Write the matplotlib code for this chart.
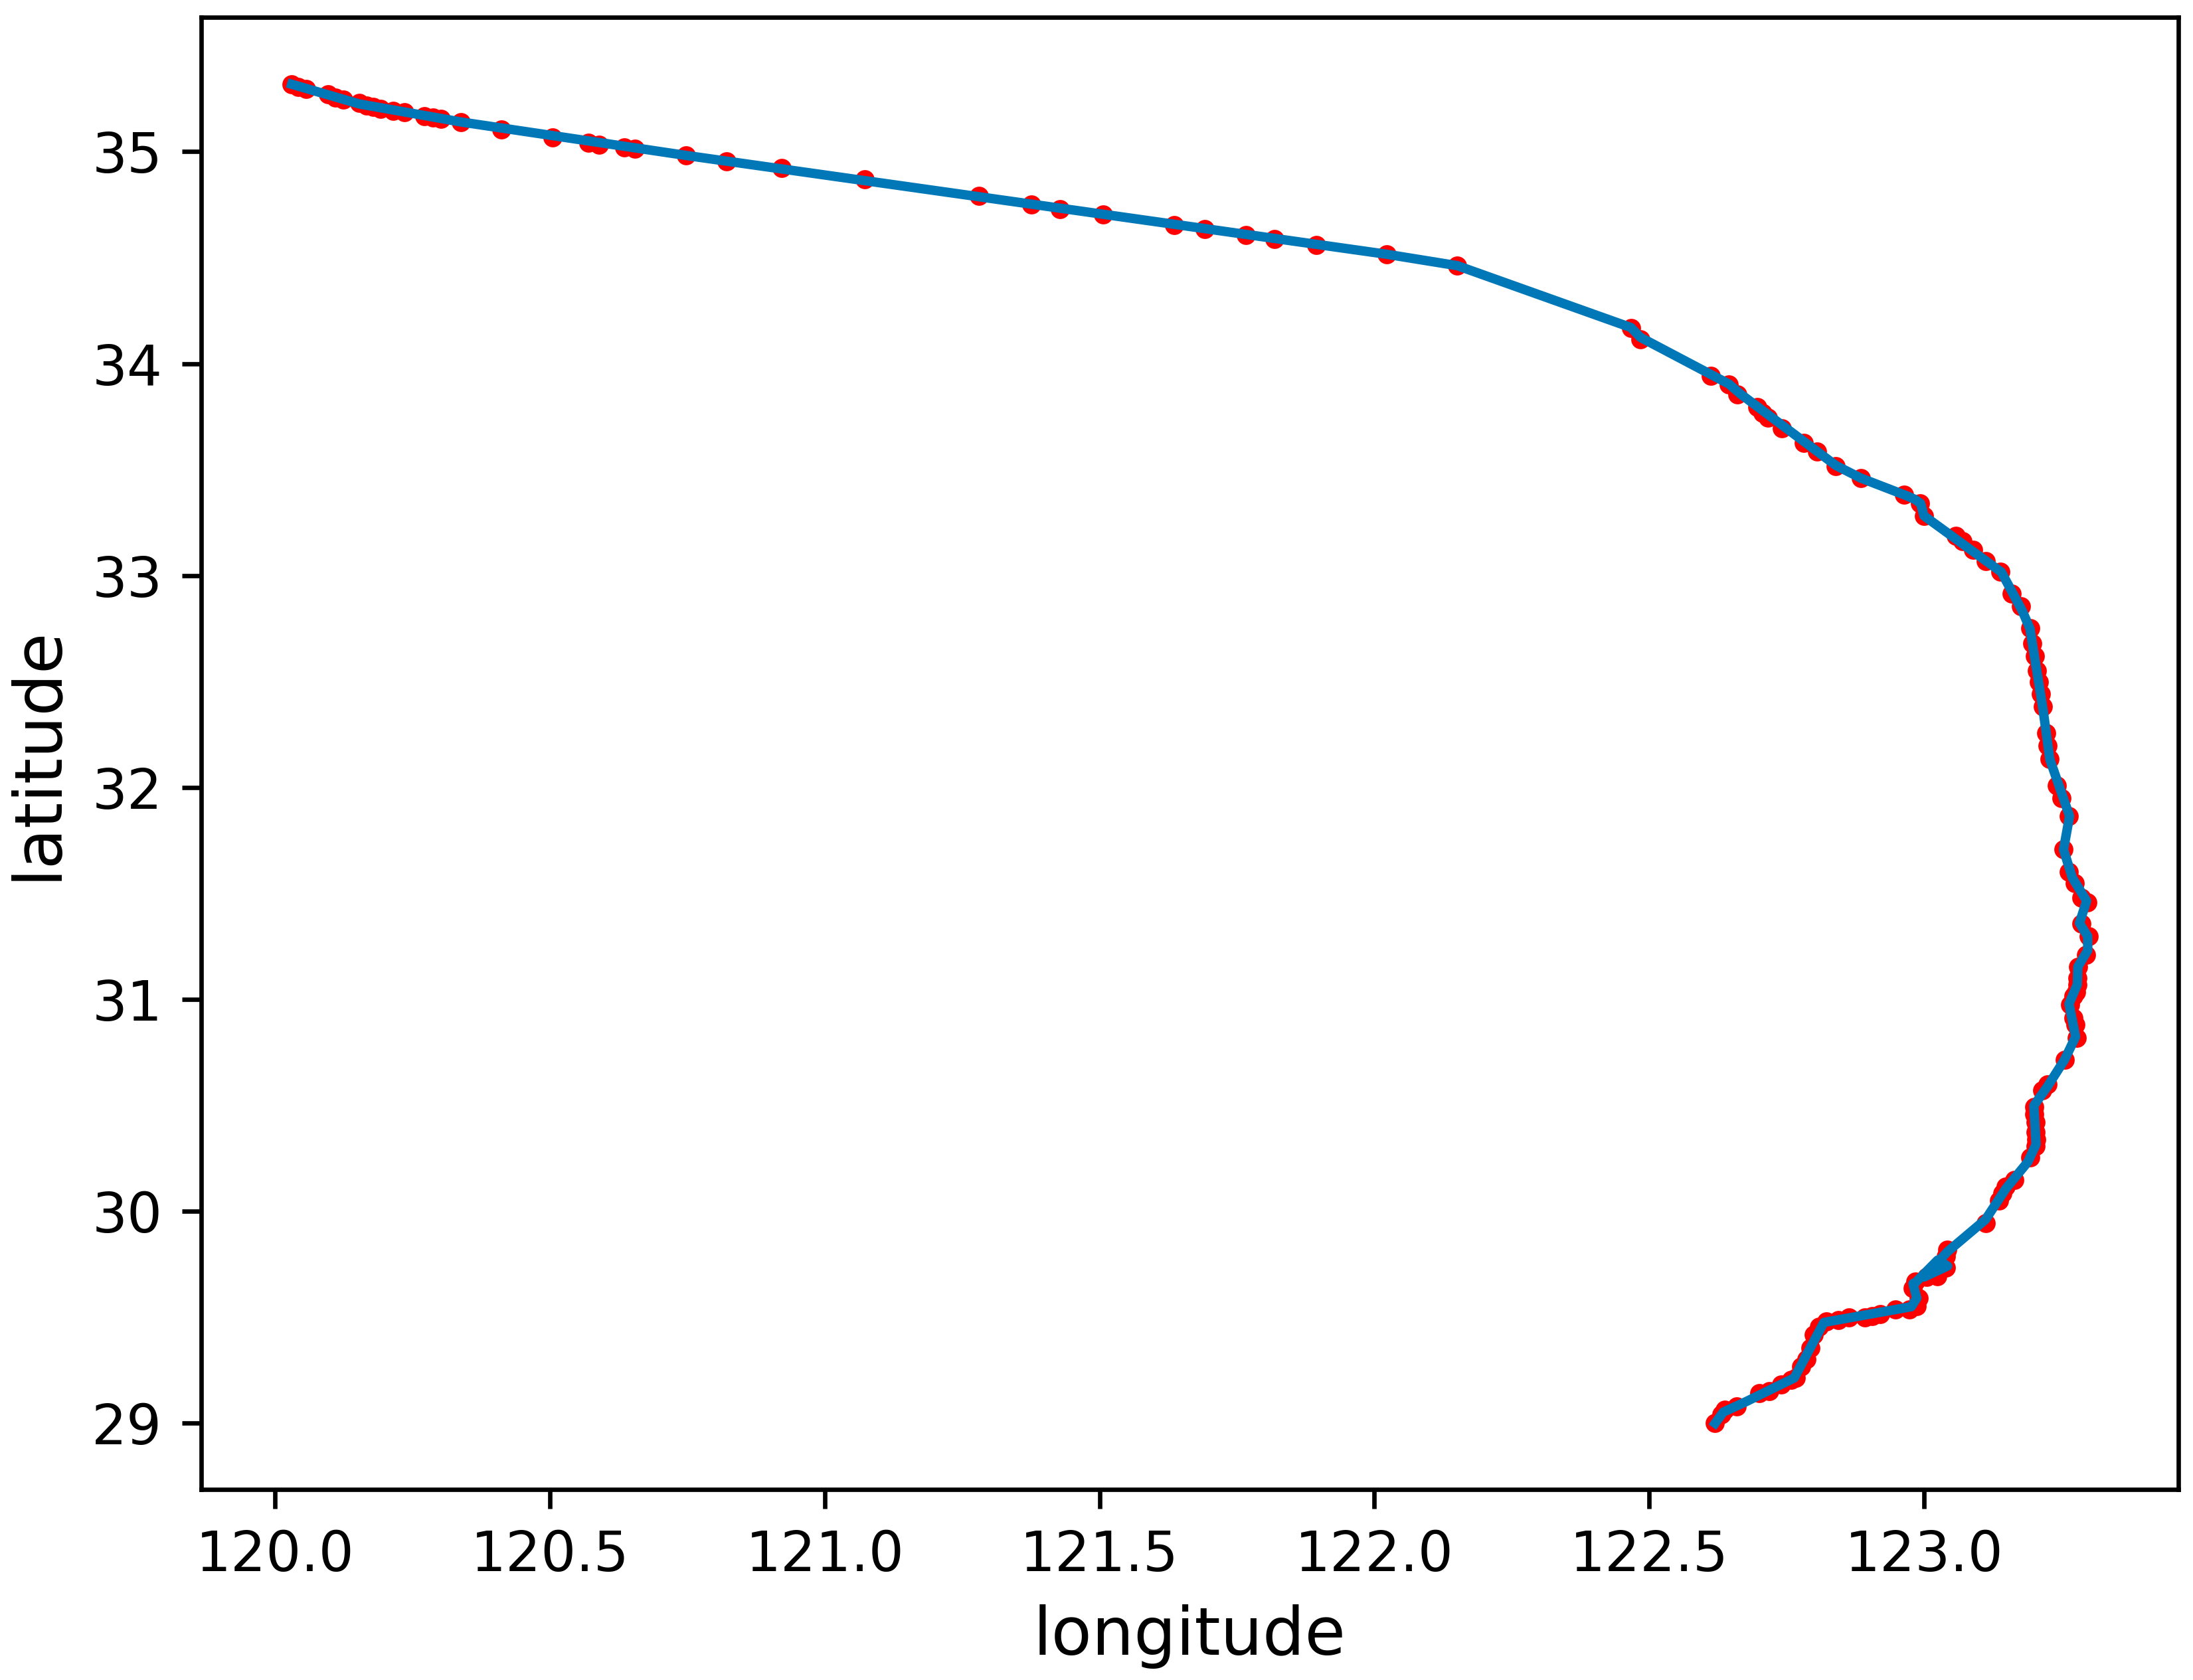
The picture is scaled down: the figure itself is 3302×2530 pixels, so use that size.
import matplotlib
matplotlib.use('Agg')
import matplotlib.pyplot as plt

# track points (red), south end last
point_lon = [120.030, 120.042, 120.056, 120.096, 120.110, 120.124, 120.153, 120.166, 120.178, 120.192,
             120.215, 120.235, 120.271, 120.287, 120.302, 120.338, 120.411, 120.505, 120.570, 120.589,
             120.635, 120.654, 120.748, 120.821, 120.922, 121.073, 121.281, 121.376, 121.428, 121.506,
             121.636, 121.691, 121.766, 121.818, 121.894, 122.022, 122.151, 122.467, 122.484, 122.612,
             122.645, 122.661, 122.697, 122.707, 122.716, 122.742, 122.781, 122.806, 122.840, 122.885,
             122.964, 122.993, 123.000, 123.058, 123.070, 123.090, 123.113, 123.139, 123.160, 123.176,
             123.193, 123.197, 123.202, 123.206, 123.209, 123.213, 123.217, 123.223, 123.225, 123.229,
             123.242, 123.250, 123.264, 123.254, 123.263, 123.274, 123.287, 123.297, 123.286, 123.300,
             123.295, 123.280, 123.279, 123.279, 123.277, 123.272, 123.266, 123.272, 123.276, 123.278,
             123.256, 123.225, 123.215, 123.201, 123.201, 123.203, 123.203, 123.204, 123.203, 123.193,
             123.165, 123.149, 123.143, 123.137, 123.112, 123.043, 123.040, 123.040, 123.024, 123.005,
             122.985, 122.980, 122.990, 122.987, 122.973, 122.948, 122.920, 122.906, 122.892, 122.863,
             122.844, 122.823, 122.809, 122.800, 122.793, 122.786, 122.777, 122.767, 122.759, 122.740,
             122.719, 122.700, 122.659, 122.638, 122.631, 122.620]
point_lat = [35.318, 35.306, 35.295, 35.271, 35.256, 35.247, 35.230, 35.217, 35.211, 35.201,
             35.191, 35.185, 35.167, 35.160, 35.155, 35.140, 35.106, 35.068, 35.043, 35.034,
             35.020, 35.013, 34.982, 34.955, 34.922, 34.869, 34.790, 34.752, 34.729, 34.703,
             34.654, 34.635, 34.606, 34.587, 34.560, 34.516, 34.462, 34.167, 34.113, 33.941,
             33.900, 33.854, 33.794, 33.768, 33.744, 33.695, 33.625, 33.585, 33.517, 33.460,
             33.381, 33.340, 33.282, 33.188, 33.162, 33.120, 33.068, 33.019, 32.914, 32.856,
             32.752, 32.680, 32.621, 32.551, 32.499, 32.441, 32.382, 32.257, 32.196, 32.133,
             32.008, 31.949, 31.866, 31.707, 31.603, 31.547, 31.481, 31.459, 31.357, 31.299,
             31.211, 31.154, 31.100, 31.070, 31.034, 31.016, 30.976, 30.914, 30.880, 30.820,
             30.716, 30.599, 30.572, 30.494, 30.458, 30.422, 30.374, 30.339, 30.308, 30.255,
             30.149, 30.118, 30.085, 30.050, 29.945, 29.820, 29.788, 29.733, 29.695, 29.691,
             29.669, 29.638, 29.591, 29.554, 29.538, 29.538, 29.514, 29.507, 29.499, 29.499,
             29.486, 29.481, 29.455, 29.418, 29.355, 29.303, 29.267, 29.214, 29.204, 29.183,
             29.152, 29.142, 29.079, 29.063, 29.042, 29.000]

# smoothed track (blue), fewer vertices than the points
track_lon = [120.030, 120.153, 120.338, 120.748, 122.022, 122.151, 122.467, 122.484, 122.645, 122.666,
             122.840, 122.885, 122.969, 122.983, 122.994, 123.000, 123.141, 123.179, 123.193, 123.217,
             123.229, 123.265, 123.254, 123.270, 123.296, 123.283, 123.298, 123.298, 123.280, 123.279,
             123.264, 123.276, 123.256, 123.225, 123.200, 123.204, 123.189, 123.149, 123.112, 123.043,
             123.000, 123.043, 123.025, 122.985, 122.980, 122.987, 122.977, 122.818, 122.793, 122.764,
             122.677, 122.635, 122.620]
track_lat = [35.318, 35.225, 35.140, 34.982, 34.516, 34.462, 34.170, 34.124, 33.904, 33.857,
             33.519, 33.460, 33.376, 33.360, 33.340, 33.282, 33.016, 32.833, 32.749, 32.363,
             32.133, 31.865, 31.707, 31.574, 31.465, 31.360, 31.298, 31.231, 31.154, 31.070,
             30.979, 30.824, 30.716, 30.590, 30.499, 30.316, 30.233, 30.107, 29.961, 29.810,
             29.690, 29.742, 29.770, 29.665, 29.659, 29.591, 29.550, 29.476, 29.355, 29.214,
             29.103, 29.053, 29.000]

fig = plt.figure(figsize=(3302 / 600, 2530 / 600), dpi=600)
ax = fig.add_axes([302.7 / 3302, 1 - 2243.3 / 2530, (3280 - 302.7) / 3302, (2243.3 - 25.7) / 2530])

ax.scatter(point_lon, point_lat, s=6, c='red', zorder=2)
ax.plot(track_lon, track_lat, color='#0077b6', linewidth=1.7, zorder=3)

ax.set_xlim(119.865, 123.463)
ax.set_ylim(28.687, 35.635)
ax.set_xticks([120.0, 120.5, 121.0, 121.5, 122.0, 122.5, 123.0])
ax.tick_params(labelsize=10)
ax.set_xlabel('longitude', fontsize=12)
ax.set_ylabel('latitude', fontsize=12)

fig.savefig('out.png', dpi=600)
